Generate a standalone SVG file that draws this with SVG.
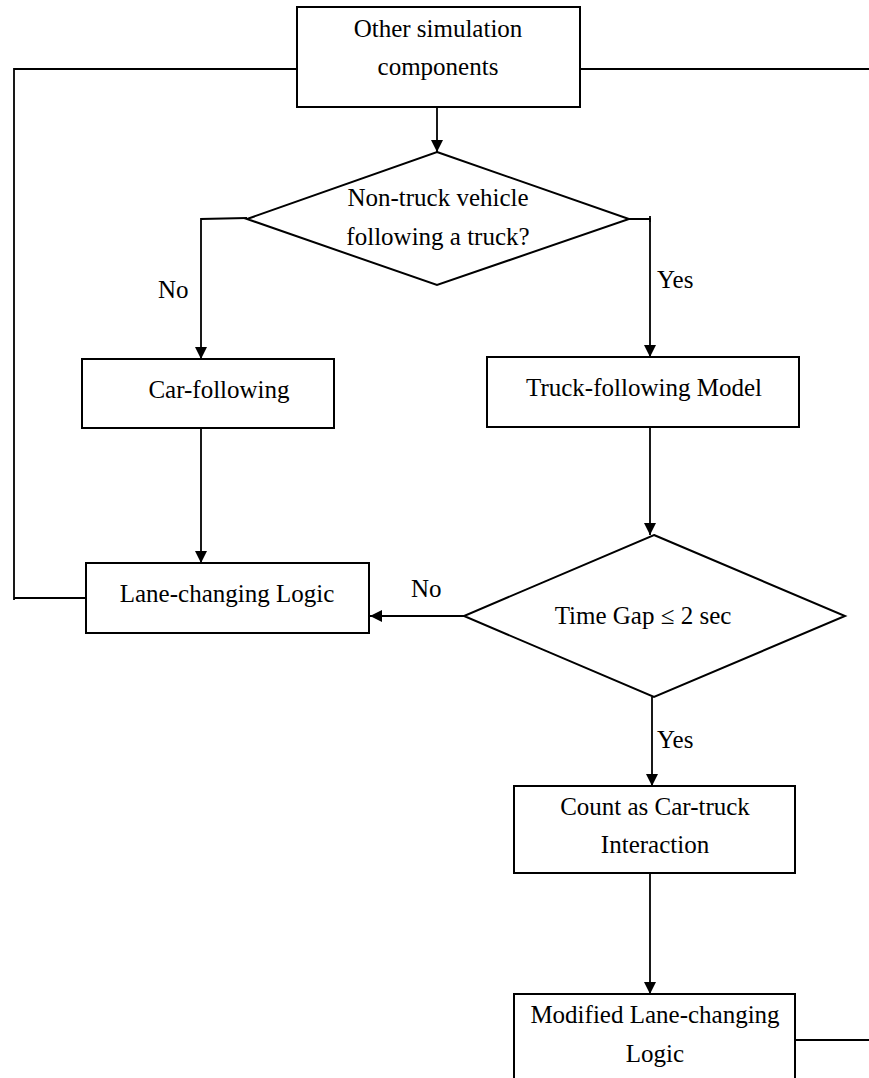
<svg xmlns="http://www.w3.org/2000/svg" width="869" height="1078" viewBox="0 0 869 1078">
<style>
.box{fill:#fff;stroke:#000;stroke-width:2}
.ln{fill:none;stroke:#000;stroke-width:1.8}
.ar{fill:none;stroke:#000;stroke-width:1.8;marker-end:url(#ah)}
text{font-family:"Liberation Serif","Times New Roman",serif;font-size:25px;fill:#000;text-anchor:middle}
.lbl{text-anchor:start}
</style>
<defs>
<marker id="ah" markerWidth="12" markerHeight="12" refX="12" refY="6" orient="auto" markerUnits="userSpaceOnUse">
<path d="M0,0 L12,6 L0,12 Z" fill="#000"/>
</marker>
</defs>
<rect width="869" height="1078" fill="#fff"/>
<g id="connectors">
<polyline class="ln" points="297,69 14,69 14,600"/>
<line class="ln" x1="14" y1="598" x2="86" y2="598"/>
<line class="ln" x1="580" y1="69" x2="869" y2="69"/>
<line class="ar" x1="437" y1="107" x2="437" y2="152"/>
<polyline class="ar" points="247,218 201,219 201,359"/>
<polyline class="ar" points="629,219 650,219 650,357"/>
<polyline class="ln" points="650,216 650,222"/>
<line class="ar" x1="201" y1="428" x2="201" y2="563"/>
<line class="ar" x1="650" y1="427" x2="650" y2="535"/>
<line class="ar" x1="464" y1="616" x2="370" y2="616"/>
<line class="ar" x1="652" y1="697" x2="652" y2="786"/>
<line class="ar" x1="650" y1="873" x2="650" y2="994"/>
<line class="ln" x1="795" y1="1040" x2="869" y2="1040"/>
<text class="lbl" x="158" y="298">No</text>
<text class="lbl" x="657" y="288">Yes</text>
<text class="lbl" x="411" y="597">No</text>
<text class="lbl" x="657" y="748">Yes</text>
</g>
<g id="other">
<rect class="box" x="297" y="7" width="283" height="100"/>
<text x="438" y="37">Other simulation</text>
<text x="438" y="75">components</text>
</g>
<g id="decision1">
<polygon class="box" points="437,152 629,219 437,285 247,219"/>
<text x="438" y="206">Non-truck vehicle</text>
<text x="438" y="245">following a truck?</text>
</g>
<g id="carfollowing">
<rect class="box" x="82" y="359" width="252" height="69"/>
<text x="219" y="398">Car-following</text>
</g>
<g id="truckfollowing">
<rect class="box" x="487" y="357" width="312" height="70"/>
<text x="644" y="396">Truck-following Model</text>
</g>
<g id="lanechanging">
<rect class="box" x="86" y="563" width="283" height="70"/>
<text x="227" y="602">Lane-changing Logic</text>
</g>
<g id="decision2">
<polygon class="box" points="654,535 845,616 654,697 464,616"/>
<text x="643" y="624">Time Gap ≤ 2 sec</text>
</g>
<g id="count">
<rect class="box" x="514" y="786" width="281" height="87"/>
<text x="655" y="815">Count as Car-truck</text>
<text x="655" y="853">Interaction</text>
</g>
<g id="modified">
<rect class="box" x="514" y="994" width="281" height="100"/>
<text x="655" y="1023">Modified Lane-changing</text>
<text x="655" y="1062">Logic</text>
</g>
</svg>
